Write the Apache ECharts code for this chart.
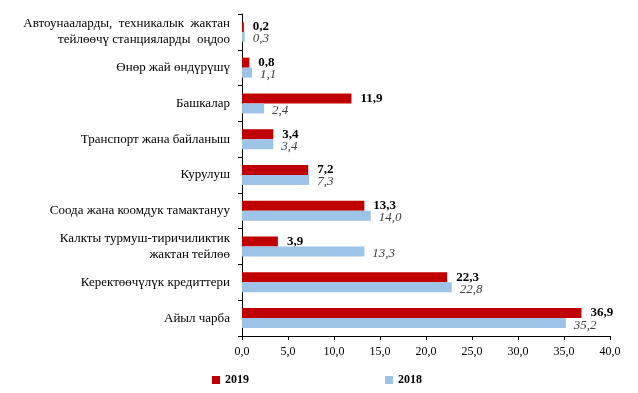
<!DOCTYPE html>
<html><head><meta charset="utf-8">
<script src="https://cdn.jsdelivr.net/npm/echarts@6/dist/echarts.min.js"></script>
<style>html,body{margin:0;padding:0;background:#fff}#c{width:638px;height:393px}</style>
</head><body><div id="c"></div>
<script>
const categories = [
  "Автоунааларды,  техникалык  жактан\nтейлөөчү станцияларды  оңдоо",
  "Өнөр жай өндүрүшү",
  "Башкалар",
  "Транспорт жана байланыш",
  "Курулуш",
  "Соода жана коомдук тамактануу",
  "Калкты турмуш-тиричиликтик\nжактан тейлөө",
  "Керектөөчүлүк кредиттери",
  "Айыл чарба"
];
const values2019 = [0.2, 0.8, 11.9, 3.4, 7.2, 13.3, 3.9, 22.3, 36.9];
const values2018 = [0.3, 1.1, 2.4, 3.4, 7.3, 14.0, 13.3, 22.8, 35.2];
const xTicks = [0, 5, 10, 15, 20, 25, 30, 35, 40];

const fmt = v => Number(v).toFixed(1).replace('.', ',');
const font = '"Liberation Serif", "Times New Roman", serif';
const chart = echarts.init(document.getElementById('c'));
chart.setOption({
  animation: false,
  textStyle: {fontFamily: font},
  grid: {left: 242, right: 28, top: 14, bottom: 57, containLabel: false},
  legend: {
    data: ['2019', '2018'], left: 207, top: 369, itemGap: 136,
    itemWidth: 8, itemHeight: 8, icon: 'rect',
    textStyle: {fontFamily: font, fontSize: 12, fontWeight: 'bold', color: '#000'}
  },
  xAxis: {
    type: 'value', min: xTicks[0], max: xTicks[xTicks.length - 1], interval: 5,
    axisLine: {show: true, lineStyle: {color: '#000'}},
    axisTick: {show: true, length: 4, lineStyle: {color: '#000'}},
    splitLine: {show: false},
    axisLabel: {formatter: fmt, fontFamily: font, fontSize: 12, color: '#000', margin: 10}
  },
  yAxis: {
    type: 'category', data: categories, inverse: true,
    axisLine: {show: true, lineStyle: {color: '#000'}},
    axisTick: {show: true, length: 4, lineStyle: {color: '#000'}},
    axisLabel: {fontFamily: font, fontSize: 13, color: '#000', margin: 12, align: 'right', lineHeight: 16}
  },
  series: [
    {
      name: '2019', type: 'bar', data: values2019, barWidth: 10, barGap: '0%',
      itemStyle: {color: '#C00000'},
      label: {show: true, position: 'right', distance: 9, formatter: p => fmt(p.value),
        fontFamily: font, fontSize: 13, fontWeight: 'bold', color: '#000'}
    },
    {
      name: '2018', type: 'bar', data: values2018, barWidth: 10,
      itemStyle: {color: '#9DC3E6'},
      label: {show: true, position: 'right', distance: 8, offset: [0, 2], formatter: p => fmt(p.value),
        fontFamily: font, fontSize: 13, fontStyle: 'italic', color: '#404040'}
    }
  ]
});
</script></body></html>
